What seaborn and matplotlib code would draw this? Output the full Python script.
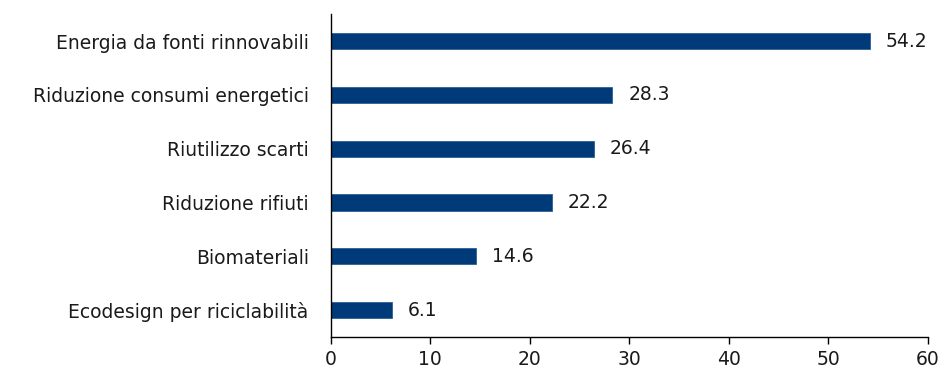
import matplotlib
matplotlib.use("Agg")
import matplotlib.pyplot as plt
import seaborn as sns
import pandas as pd

# Data
categories = [
    "Energia da fonti rinnovabili",
    "Riduzione consumi energetici",
    "Riutilizzo scarti",
    "Riduzione rifiuti",
    "Biomateriali",
    "Ecodesign per riciclabilità",
]
values = [54.2, 28.3, 26.4, 22.2, 14.6, 6.1]
x_ticks = [0, 10, 20, 30, 40, 50, 60]

sns.set_style("white")
plt.rcParams["font.family"] = ["DejaVu Sans"]
plt.rcParams["xtick.bottom"] = True

df = pd.DataFrame({"categoria": categories, "valore": values})

fig = plt.figure(figsize=(9.4, 3.72), dpi=100)
ax = fig.add_axes([0.352, 0.094, 0.635, 0.868])

sns.barplot(data=df, x="valore", y="categoria", color="#003A78", saturation=1,
            width=0.3, edgecolor="#2d5f94", linewidth=0.6, ax=ax)

for i, v in enumerate(values):
    ax.text(v + 1.6, i, f"{v:.1f}", va="center", ha="left", fontsize=13.5, color="#1a1a1a")

ax.set_xlim(0, 60)
ax.set_ylim(5.5, -0.5)
ax.set_xticks(x_ticks)
ax.set_xlabel("")
ax.set_ylabel("")
for s in ["top", "right"]:
    ax.spines[s].set_visible(False)
for s in ["left", "bottom"]:
    ax.spines[s].set_color("black")
    ax.spines[s].set_linewidth(1.0)
ax.tick_params(axis="x", direction="out", length=5, width=1, color="black", labelsize=13.5, pad=4)
ax.tick_params(axis="y", length=0, labelsize=13.5, pad=16)
for lbl in ax.get_yticklabels() + ax.get_xticklabels():
    lbl.set_color("#1a1a1a")

fig.savefig("out.png", dpi=100)
